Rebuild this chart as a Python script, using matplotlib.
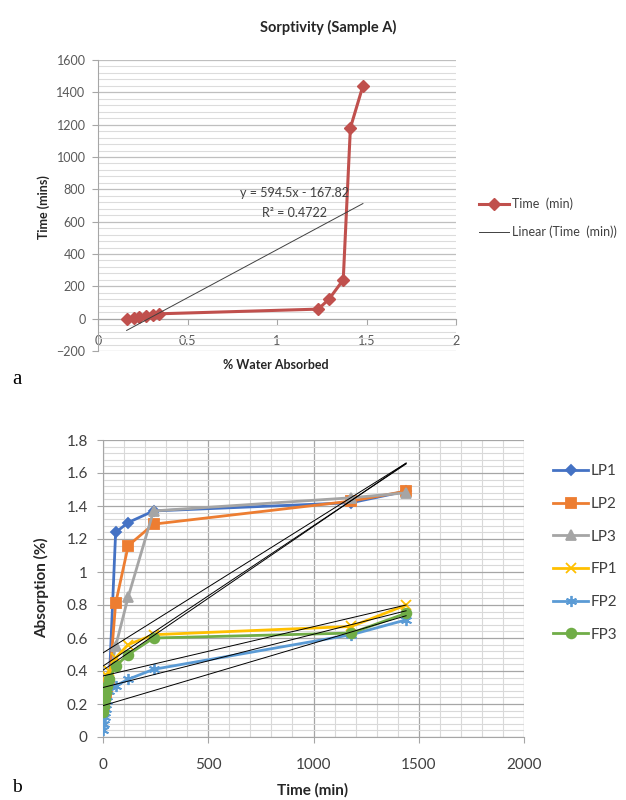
import numpy as np
import matplotlib
matplotlib.use("Agg")
import matplotlib.pyplot as plt
from matplotlib.ticker import MultipleLocator, FuncFormatter

plt.rcParams['font.family'] = ['Lato', 'DejaVu Sans']

# --- chart a: sorptivity of sample A ---
absorbed_a = [0.16, 0.20, 0.23, 0.27, 0.31, 0.34, 1.23, 1.29, 1.37, 1.41, 1.48]
time_a = [1, 5, 10, 15, 20, 30, 59, 120, 240, 1180, 1440]
trend_slope_a = 594.5
trend_icpt_a = -167.82
trend_r2_a = 0.4722

# --- chart b: absorption vs time ---
times_b = [1, 5, 10, 15, 20, 30, 60, 120, 240, 1180, 1440]
lp1 = [0.18, 0.21, 0.24, 0.27, 0.30, 0.34, 1.24, 1.30, 1.37, 1.42, 1.49]
lp2 = [0.17, 0.20, 0.23, 0.26, 0.29, 0.33, 0.81, 1.16, 1.29, 1.43, 1.49]
lp3 = [0.19, 0.22, 0.26, 0.29, 0.32, 0.36, 0.55, 0.85, 1.37, 1.45, 1.48]
fp1 = [0.24, 0.28, 0.31, 0.34, 0.37, 0.40, 0.48, 0.56, 0.62, 0.67, 0.80]
fp2 = [0.04, 0.08, 0.12, 0.17, 0.22, 0.28, 0.31, 0.35, 0.41, 0.62, 0.71]
fp3 = [0.15, 0.19, 0.23, 0.27, 0.31, 0.35, 0.43, 0.50, 0.60, 0.63, 0.75]
series_names = ["LP1", "LP2", "LP3", "FP1", "FP2", "FP3"]
# linear trend lines: value at t=0 and at the last time
trend_start_b = [0.51, 0.43, 0.405, 0.37, 0.30, 0.19]
trend_end_b = [1.66, 1.655, 1.66, 0.80, 0.765, 0.735]

colors = ["#4472c4", "#ed7d31", "#a5a5a5", "#ffc000", "#5b9bd5", "#70ad47"]
markers = ["D", "s", "^", "x", (6, 2, 0), "o"]
msizes = [5, 7, 7, 7, 8, 7]

W, H = 626, 800
fig = plt.figure(figsize=(W / 100, H / 100), dpi=100)

def box(l, t, r, b):
    return [l / W, 1 - b / H, (r - l) / W, (b - t) / H]

# ---------------- top chart ----------------
ax1 = fig.add_axes(box(98, 60, 456, 351))
ax1.set_xlim(0, 2)
ax1.set_ylim(-200, 1600)
ax1.yaxis.set_major_locator(MultipleLocator(200))
ax1.yaxis.set_minor_locator(MultipleLocator(40))
ax1.set_xticks([0, 0.5, 1, 1.5, 2])
ax1.set_xticklabels(["0", "0.5", "1", "1.5", "2"])
ax1.grid(which='major', axis='y', color='#bfbfbf', lw=0.9)
ax1.grid(which='minor', axis='y', color='#dcdcdc', lw=0.8)
ax1.set_axisbelow(True)
for s in ['top', 'right']:
    ax1.spines[s].set_visible(False)
ax1.spines['bottom'].set_position(('data', 0))
ax1.spines['bottom'].set_color('#a6a6a6')
ax1.spines['left'].set_color('#a6a6a6')
ax1.tick_params(axis='y', which='major', length=4, color='#a6a6a6', pad=5,
                labelsize=9, labelcolor='#595959')
ax1.tick_params(axis='y', which='minor', length=0)
ax1.tick_params(axis='x', length=4, color='#a6a6a6', pad=8,
                labelsize=9, labelcolor='#595959')

ax1.plot(absorbed_a, time_a, color='#c0504d', lw=2.2, marker='D', ms=6,
         label='Time  (min)', zorder=3)
xt = np.array([min(absorbed_a), max(absorbed_a)])
ax1.plot(xt, trend_slope_a * xt + trend_icpt_a, color='#404040', lw=0.7,
         label='Linear (Time  (min))', zorder=4)
ax1.text(1.10, 780, f"y = {trend_slope_a}x - {abs(trend_icpt_a)}", ha='center',
         va='center', fontsize=9, color='#404040')
ax1.text(1.10, 655, f"R² = {trend_r2_a}", ha='center', va='center',
         fontsize=9, color='#404040')

fig.legend(*ax1.get_legend_handles_labels(), loc='center left',
           bbox_to_anchor=(479 / W, 1 - 218 / H), frameon=False, fontsize=9,
           handlelength=2.4, handletextpad=0.2, labelspacing=1.2,
           borderpad=0, borderaxespad=0, numpoints=1, labelcolor='#404040')

fig.text(328 / W, 1 - 27 / H, "Sorptivity (Sample A)", ha='center',
         va='center', fontsize=10.5, fontweight='bold', color='#262626')
fig.text(44 / W, 1 - 207 / H, "Time (mins)", ha='center', va='center',
         rotation=90, fontsize=9, fontweight='bold', color='#262626')
fig.text(276 / W, 1 - 365 / H, "% Water Absorbed", ha='center', va='center',
         fontsize=9, fontweight='bold', color='#262626')
fig.text(12 / W, 1 - 380 / H, "a", ha='left', va='center', fontsize=15,
         family='Liberation Serif')

# ---------------- bottom chart ----------------
ax2 = fig.add_axes(box(103, 440, 524, 737))
ax2.set_xlim(0, 2000)
ax2.set_ylim(0, 1.8)
ax2.xaxis.set_major_locator(MultipleLocator(500))
ax2.xaxis.set_minor_locator(MultipleLocator(100))
ax2.yaxis.set_major_locator(MultipleLocator(0.2))
ax2.yaxis.set_minor_locator(MultipleLocator(0.04))
ax2.yaxis.set_major_formatter(FuncFormatter(lambda v, p: f"{v:g}"))
ax2.grid(which='major', color='#a6a6a6', lw=0.9)
ax2.grid(which='minor', color='#d9d9d9', lw=0.8)
ax2.set_axisbelow(True)
for s in ['top', 'right']:
    ax2.spines[s].set_visible(False)
ax2.spines['left'].set_color('#a6a6a6')
ax2.spines['bottom'].set_color('#a6a6a6')
ax2.tick_params(which='major', length=4, color='#a6a6a6', labelsize=11,
                labelcolor='#404040')
ax2.tick_params(axis='y', pad=7)
ax2.tick_params(axis='x', pad=11)
ax2.tick_params(which='minor', length=0)

for name, vals, c, m, ms in zip(series_names, [lp1, lp2, lp3, fp1, fp2, fp3],
                                colors, markers, msizes):
    ax2.plot(times_b, vals, color=c, lw=2, marker=m, ms=ms, mew=1.3,
             label=name, zorder=3)

t_end = max(times_b)
for a, b in zip(trend_start_b, trend_end_b):
    ax2.plot([0, t_end], [a, b], color='black', lw=0.7, zorder=4)

fig.legend(*ax2.get_legend_handles_labels(), loc='center left',
           bbox_to_anchor=(553 / W, 1 - 553 / H), frameon=False, fontsize=11,
           handlelength=2.3, handletextpad=0.15, labelspacing=1.22,
           borderpad=0, borderaxespad=0, numpoints=1, labelcolor='#404040')

fig.text(42 / W, 1 - 588 / H, "Absorption (%)", ha='center', va='center',
         rotation=90, fontsize=11, fontweight='bold', color='#262626')
fig.text(313 / W, 1 - 790 / H, "Time (min)", ha='center', va='center',
         fontsize=11, fontweight='bold', color='#262626')
fig.text(12 / W, 1 - 788 / H, "b", ha='left', va='center', fontsize=14,
         family='Liberation Serif')

fig.savefig("out.png", dpi=100)
